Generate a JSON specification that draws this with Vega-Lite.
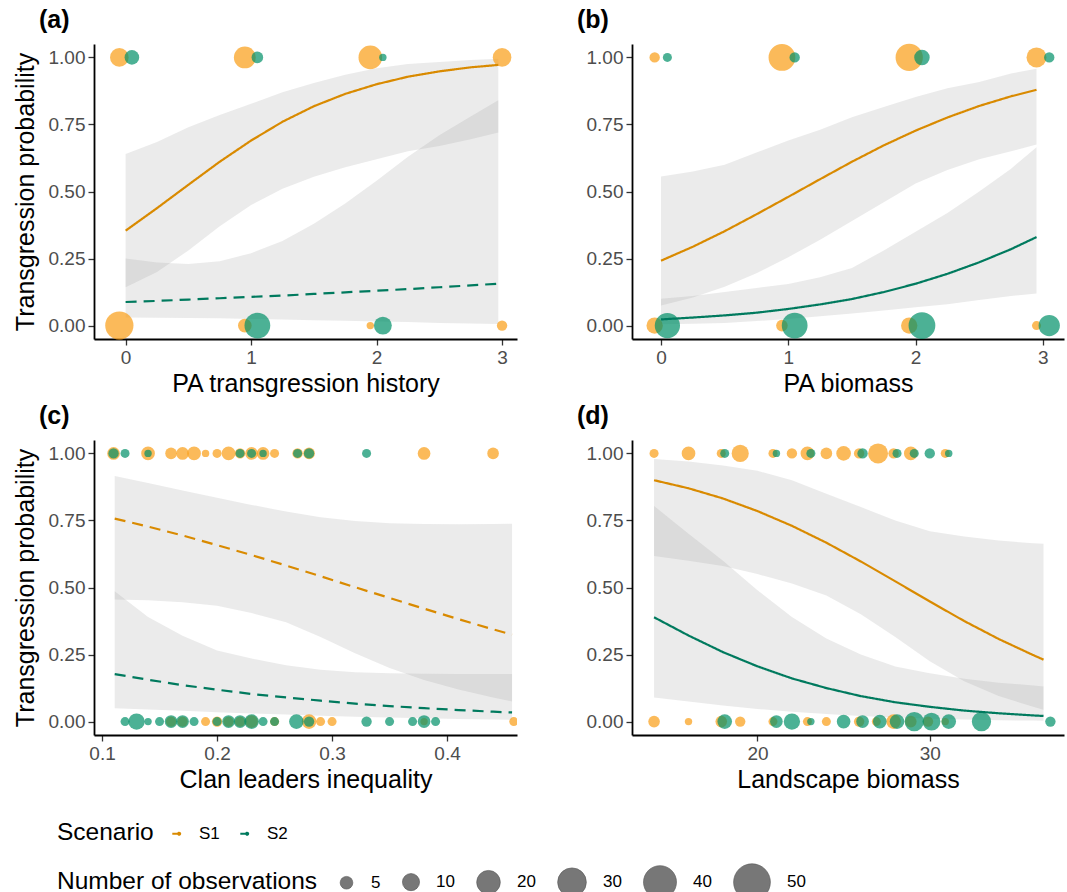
{
  "$schema": "https://vega.github.io/schema/vega-lite/v6.json",
  "padding": {"left": 12, "top": 7, "right": 5, "bottom": 5},
  "config": {
    "font": "Liberation Sans",
    "view": {"stroke": null},
    "axis": {"grid": false, "domainColor": "#000000", "domainWidth": 1.8, "tickColor": "#333333", "tickWidth": 1.3, "tickSize": 6, "labelFontSize": 19, "labelColor": "#4d4d4d", "labelPadding": 3, "titleFontSize": 25, "titleFontWeight": "normal", "titleColor": "#000000"},
    "title": {"fontSize": 25, "fontWeight": "bold", "anchor": "start", "frame": "group", "dx": -55, "offset": 11, "baseline": "alphabetic", "color": "#000000"},
    "legend": {"titleFontSize": 24.5, "titleFontWeight": "normal", "titleColor": "#000000", "titleLimit": 500, "labelFontSize": 17, "labelColor": "#000000", "titleOrient": "left", "titleAnchor": "middle", "titleBaseline": "middle", "direction": "horizontal", "orient": "none"}
  },
  "datasets": {
    "curves": [
      {"p":"a","sc":"S1","lt":"solid","x":0,"fit":0.354,"lo":0.143,"hi":0.64},
      {"p":"a","sc":"S1","lt":"solid","x":0.25,"fit":0.438,"lo":0.2,"hi":0.685},
      {"p":"a","sc":"S1","lt":"solid","x":0.5,"fit":0.525,"lo":0.28,"hi":0.74},
      {"p":"a","sc":"S1","lt":"solid","x":0.75,"fit":0.611,"lo":0.37,"hi":0.785},
      {"p":"a","sc":"S1","lt":"solid","x":1,"fit":0.69,"lo":0.45,"hi":0.827},
      {"p":"a","sc":"S1","lt":"solid","x":1.25,"fit":0.76,"lo":0.51,"hi":0.87},
      {"p":"a","sc":"S1","lt":"solid","x":1.5,"fit":0.818,"lo":0.555,"hi":0.905},
      {"p":"a","sc":"S1","lt":"solid","x":1.75,"fit":0.864,"lo":0.59,"hi":0.935},
      {"p":"a","sc":"S1","lt":"solid","x":2,"fit":0.9,"lo":0.62,"hi":0.96},
      {"p":"a","sc":"S1","lt":"solid","x":2.25,"fit":0.928,"lo":0.65,"hi":0.975},
      {"p":"a","sc":"S1","lt":"solid","x":2.5,"fit":0.948,"lo":0.67,"hi":0.983},
      {"p":"a","sc":"S1","lt":"solid","x":2.75,"fit":0.963,"lo":0.695,"hi":0.99},
      {"p":"a","sc":"S1","lt":"solid","x":2.97,"fit":0.972,"lo":0.72,"hi":0.995},
      {"p":"a","sc":"S2","lt":"dashed","x":0,"fit":0.088,"lo":0.03,"hi":0.25},
      {"p":"a","sc":"S2","lt":"dashed","x":0.25,"fit":0.092,"lo":0.029,"hi":0.235},
      {"p":"a","sc":"S2","lt":"dashed","x":0.5,"fit":0.097,"lo":0.028,"hi":0.23},
      {"p":"a","sc":"S2","lt":"dashed","x":0.75,"fit":0.102,"lo":0.027,"hi":0.24},
      {"p":"a","sc":"S2","lt":"dashed","x":1,"fit":0.107,"lo":0.025,"hi":0.27},
      {"p":"a","sc":"S2","lt":"dashed","x":1.25,"fit":0.112,"lo":0.023,"hi":0.315},
      {"p":"a","sc":"S2","lt":"dashed","x":1.5,"fit":0.118,"lo":0.02,"hi":0.38},
      {"p":"a","sc":"S2","lt":"dashed","x":1.75,"fit":0.124,"lo":0.018,"hi":0.455},
      {"p":"a","sc":"S2","lt":"dashed","x":2,"fit":0.13,"lo":0.015,"hi":0.54},
      {"p":"a","sc":"S2","lt":"dashed","x":2.25,"fit":0.136,"lo":0.013,"hi":0.63},
      {"p":"a","sc":"S2","lt":"dashed","x":2.5,"fit":0.143,"lo":0.01,"hi":0.71},
      {"p":"a","sc":"S2","lt":"dashed","x":2.75,"fit":0.15,"lo":0.008,"hi":0.78},
      {"p":"a","sc":"S2","lt":"dashed","x":2.97,"fit":0.156,"lo":0.006,"hi":0.84},

      {"p":"b","sc":"S1","lt":"solid","x":0,"fit":0.242,"lo":0.075,"hi":0.556},
      {"p":"b","sc":"S1","lt":"solid","x":0.25,"fit":0.294,"lo":0.105,"hi":0.575},
      {"p":"b","sc":"S1","lt":"solid","x":0.5,"fit":0.352,"lo":0.145,"hi":0.6},
      {"p":"b","sc":"S1","lt":"solid","x":0.75,"fit":0.415,"lo":0.195,"hi":0.645},
      {"p":"b","sc":"S1","lt":"solid","x":1,"fit":0.48,"lo":0.255,"hi":0.69},
      {"p":"b","sc":"S1","lt":"solid","x":1.25,"fit":0.546,"lo":0.32,"hi":0.73},
      {"p":"b","sc":"S1","lt":"solid","x":1.5,"fit":0.611,"lo":0.39,"hi":0.777},
      {"p":"b","sc":"S1","lt":"solid","x":1.75,"fit":0.672,"lo":0.46,"hi":0.815},
      {"p":"b","sc":"S1","lt":"solid","x":2,"fit":0.727,"lo":0.53,"hi":0.852},
      {"p":"b","sc":"S1","lt":"solid","x":2.25,"fit":0.776,"lo":0.58,"hi":0.885},
      {"p":"b","sc":"S1","lt":"solid","x":2.5,"fit":0.819,"lo":0.62,"hi":0.908},
      {"p":"b","sc":"S1","lt":"solid","x":2.75,"fit":0.855,"lo":0.65,"hi":0.94},
      {"p":"b","sc":"S1","lt":"solid","x":2.95,"fit":0.879,"lo":0.675,"hi":0.958},
      {"p":"b","sc":"S2","lt":"solid","x":0,"fit":0.023,"lo":0.005,"hi":0.1},
      {"p":"b","sc":"S2","lt":"solid","x":0.25,"fit":0.03,"lo":0.007,"hi":0.11},
      {"p":"b","sc":"S2","lt":"solid","x":0.5,"fit":0.038,"lo":0.01,"hi":0.125},
      {"p":"b","sc":"S2","lt":"solid","x":0.75,"fit":0.048,"lo":0.017,"hi":0.14},
      {"p":"b","sc":"S2","lt":"solid","x":1,"fit":0.062,"lo":0.025,"hi":0.155},
      {"p":"b","sc":"S2","lt":"solid","x":1.25,"fit":0.079,"lo":0.035,"hi":0.18},
      {"p":"b","sc":"S2","lt":"solid","x":1.5,"fit":0.099,"lo":0.045,"hi":0.215},
      {"p":"b","sc":"S2","lt":"solid","x":1.75,"fit":0.125,"lo":0.056,"hi":0.28},
      {"p":"b","sc":"S2","lt":"solid","x":2,"fit":0.156,"lo":0.068,"hi":0.35},
      {"p":"b","sc":"S2","lt":"solid","x":2.25,"fit":0.193,"lo":0.08,"hi":0.42},
      {"p":"b","sc":"S2","lt":"solid","x":2.5,"fit":0.236,"lo":0.095,"hi":0.5},
      {"p":"b","sc":"S2","lt":"solid","x":2.75,"fit":0.285,"lo":0.11,"hi":0.585},
      {"p":"b","sc":"S2","lt":"solid","x":2.95,"fit":0.33,"lo":0.12,"hi":0.665},

      {"p":"c","sc":"S1","lt":"dashed","x":0.111,"fit":0.757,"lo":0.455,"hi":0.916},
      {"p":"c","sc":"S1","lt":"dashed","x":0.14,"fit":0.727,"lo":0.452,"hi":0.89},
      {"p":"c","sc":"S1","lt":"dashed","x":0.17,"fit":0.694,"lo":0.445,"hi":0.862},
      {"p":"c","sc":"S1","lt":"dashed","x":0.2,"fit":0.658,"lo":0.432,"hi":0.835},
      {"p":"c","sc":"S1","lt":"dashed","x":0.23,"fit":0.621,"lo":0.405,"hi":0.808},
      {"p":"c","sc":"S1","lt":"dashed","x":0.26,"fit":0.582,"lo":0.37,"hi":0.783},
      {"p":"c","sc":"S1","lt":"dashed","x":0.29,"fit":0.542,"lo":0.315,"hi":0.762},
      {"p":"c","sc":"S1","lt":"dashed","x":0.32,"fit":0.501,"lo":0.255,"hi":0.748},
      {"p":"c","sc":"S1","lt":"dashed","x":0.35,"fit":0.461,"lo":0.2,"hi":0.74},
      {"p":"c","sc":"S1","lt":"dashed","x":0.38,"fit":0.421,"lo":0.155,"hi":0.737},
      {"p":"c","sc":"S1","lt":"dashed","x":0.41,"fit":0.382,"lo":0.12,"hi":0.736},
      {"p":"c","sc":"S1","lt":"dashed","x":0.44,"fit":0.344,"lo":0.09,"hi":0.737},
      {"p":"c","sc":"S1","lt":"dashed","x":0.4565,"fit":0.324,"lo":0.075,"hi":0.738},
      {"p":"c","sc":"S2","lt":"dashed","x":0.111,"fit":0.177,"lo":0.05,"hi":0.486},
      {"p":"c","sc":"S2","lt":"dashed","x":0.14,"fit":0.156,"lo":0.045,"hi":0.39},
      {"p":"c","sc":"S2","lt":"dashed","x":0.17,"fit":0.136,"lo":0.04,"hi":0.32},
      {"p":"c","sc":"S2","lt":"dashed","x":0.2,"fit":0.119,"lo":0.035,"hi":0.265},
      {"p":"c","sc":"S2","lt":"dashed","x":0.23,"fit":0.103,"lo":0.03,"hi":0.235},
      {"p":"c","sc":"S2","lt":"dashed","x":0.26,"fit":0.09,"lo":0.026,"hi":0.21},
      {"p":"c","sc":"S2","lt":"dashed","x":0.29,"fit":0.078,"lo":0.022,"hi":0.193},
      {"p":"c","sc":"S2","lt":"dashed","x":0.32,"fit":0.067,"lo":0.018,"hi":0.184},
      {"p":"c","sc":"S2","lt":"dashed","x":0.35,"fit":0.058,"lo":0.015,"hi":0.18},
      {"p":"c","sc":"S2","lt":"dashed","x":0.38,"fit":0.05,"lo":0.012,"hi":0.178},
      {"p":"c","sc":"S2","lt":"dashed","x":0.41,"fit":0.043,"lo":0.01,"hi":0.177},
      {"p":"c","sc":"S2","lt":"dashed","x":0.44,"fit":0.037,"lo":0.008,"hi":0.177},
      {"p":"c","sc":"S2","lt":"dashed","x":0.4565,"fit":0.034,"lo":0.007,"hi":0.177},

      {"p":"d","sc":"S1","lt":"solid","x":14,"fit":0.9,"lo":0.617,"hi":0.979},
      {"p":"d","sc":"S1","lt":"solid","x":16,"fit":0.87,"lo":0.6,"hi":0.97},
      {"p":"d","sc":"S1","lt":"solid","x":18,"fit":0.832,"lo":0.58,"hi":0.955},
      {"p":"d","sc":"S1","lt":"solid","x":20,"fit":0.785,"lo":0.55,"hi":0.935},
      {"p":"d","sc":"S1","lt":"solid","x":22,"fit":0.73,"lo":0.515,"hi":0.9},
      {"p":"d","sc":"S1","lt":"solid","x":24,"fit":0.667,"lo":0.47,"hi":0.85},
      {"p":"d","sc":"S1","lt":"solid","x":26,"fit":0.597,"lo":0.4,"hi":0.8},
      {"p":"d","sc":"S1","lt":"solid","x":28,"fit":0.523,"lo":0.315,"hi":0.75},
      {"p":"d","sc":"S1","lt":"solid","x":30,"fit":0.448,"lo":0.225,"hi":0.71},
      {"p":"d","sc":"S1","lt":"solid","x":32,"fit":0.375,"lo":0.15,"hi":0.69},
      {"p":"d","sc":"S1","lt":"solid","x":34,"fit":0.308,"lo":0.095,"hi":0.675},
      {"p":"d","sc":"S1","lt":"solid","x":36,"fit":0.248,"lo":0.055,"hi":0.665},
      {"p":"d","sc":"S1","lt":"solid","x":36.6,"fit":0.231,"lo":0.044,"hi":0.663},
      {"p":"d","sc":"S2","lt":"solid","x":14,"fit":0.389,"lo":0.09,"hi":0.804},
      {"p":"d","sc":"S2","lt":"solid","x":16,"fit":0.321,"lo":0.075,"hi":0.7},
      {"p":"d","sc":"S2","lt":"solid","x":18,"fit":0.259,"lo":0.06,"hi":0.6},
      {"p":"d","sc":"S2","lt":"solid","x":20,"fit":0.206,"lo":0.047,"hi":0.49},
      {"p":"d","sc":"S2","lt":"solid","x":22,"fit":0.161,"lo":0.037,"hi":0.39},
      {"p":"d","sc":"S2","lt":"solid","x":24,"fit":0.125,"lo":0.028,"hi":0.31},
      {"p":"d","sc":"S2","lt":"solid","x":26,"fit":0.095,"lo":0.021,"hi":0.25},
      {"p":"d","sc":"S2","lt":"solid","x":28,"fit":0.072,"lo":0.015,"hi":0.205},
      {"p":"d","sc":"S2","lt":"solid","x":30,"fit":0.055,"lo":0.011,"hi":0.18},
      {"p":"d","sc":"S2","lt":"solid","x":32,"fit":0.041,"lo":0.008,"hi":0.16},
      {"p":"d","sc":"S2","lt":"solid","x":34,"fit":0.031,"lo":0.005,"hi":0.145},
      {"p":"d","sc":"S2","lt":"solid","x":36,"fit":0.023,"lo":0.004,"hi":0.135},
      {"p":"d","sc":"S2","lt":"solid","x":36.6,"fit":0.021,"lo":0.003,"hi":0.131}
    ],
    "pts": [
      {"p":"a","s":"S1","x":-0.05,"y":1,"n":12},
      {"p":"a","s":"S1","x":0.95,"y":1,"n":17},
      {"p":"a","s":"S1","x":1.95,"y":1,"n":20},
      {"p":"a","s":"S1","x":3,"y":1,"n":12},
      {"p":"a","s":"S1","x":-0.05,"y":0,"n":29},
      {"p":"a","s":"S1","x":0.95,"y":0,"n":6},
      {"p":"a","s":"S1","x":1.95,"y":0,"n":1},
      {"p":"a","s":"S1","x":3,"y":0,"n":3},
      {"p":"a","s":"S2","x":0.05,"y":1,"n":7},
      {"p":"a","s":"S2","x":1.05,"y":1,"n":4},
      {"p":"a","s":"S2","x":2.05,"y":1,"n":1},
      {"p":"a","s":"S2","x":1.05,"y":0,"n":24},
      {"p":"a","s":"S2","x":2.05,"y":0,"n":11},

      {"p":"b","s":"S1","x":-0.05,"y":1,"n":3},
      {"p":"b","s":"S1","x":0.95,"y":1,"n":26},
      {"p":"b","s":"S1","x":1.95,"y":1,"n":27},
      {"p":"b","s":"S1","x":2.95,"y":1,"n":14},
      {"p":"b","s":"S1","x":-0.05,"y":0,"n":9},
      {"p":"b","s":"S1","x":0.95,"y":0,"n":4},
      {"p":"b","s":"S1","x":1.95,"y":0,"n":9},
      {"p":"b","s":"S1","x":2.95,"y":0,"n":2},
      {"p":"b","s":"S2","x":0.05,"y":1,"n":2},
      {"p":"b","s":"S2","x":1.05,"y":1,"n":3},
      {"p":"b","s":"S2","x":2.05,"y":1,"n":8},
      {"p":"b","s":"S2","x":3.05,"y":1,"n":3},
      {"p":"b","s":"S2","x":0.05,"y":0,"n":23},
      {"p":"b","s":"S2","x":1.05,"y":0,"n":24},
      {"p":"b","s":"S2","x":2.05,"y":0,"n":26},
      {"p":"b","s":"S2","x":3.05,"y":0,"n":16},

      {"p":"c","s":"S1","x":0.11,"y":1,"n":5},
      {"p":"c","s":"S1","x":0.14,"y":1,"n":6},
      {"p":"c","s":"S1","x":0.16,"y":1,"n":4},
      {"p":"c","s":"S1","x":0.17,"y":1,"n":5},
      {"p":"c","s":"S1","x":0.18,"y":1,"n":6},
      {"p":"c","s":"S1","x":0.19,"y":1,"n":1},
      {"p":"c","s":"S1","x":0.2,"y":1,"n":2},
      {"p":"c","s":"S1","x":0.21,"y":1,"n":6},
      {"p":"c","s":"S1","x":0.22,"y":1,"n":3},
      {"p":"c","s":"S1","x":0.23,"y":1,"n":5},
      {"p":"c","s":"S1","x":0.24,"y":1,"n":5},
      {"p":"c","s":"S1","x":0.25,"y":1,"n":2},
      {"p":"c","s":"S1","x":0.27,"y":1,"n":3},
      {"p":"c","s":"S1","x":0.28,"y":1,"n":4},
      {"p":"c","s":"S1","x":0.38,"y":1,"n":5},
      {"p":"c","s":"S1","x":0.44,"y":1,"n":4},
      {"p":"c","s":"S1","x":0.16,"y":0,"n":3},
      {"p":"c","s":"S1","x":0.17,"y":0,"n":3},
      {"p":"c","s":"S1","x":0.19,"y":0,"n":2},
      {"p":"c","s":"S1","x":0.2,"y":0,"n":3},
      {"p":"c","s":"S1","x":0.21,"y":0,"n":3},
      {"p":"c","s":"S1","x":0.22,"y":0,"n":3},
      {"p":"c","s":"S1","x":0.23,"y":0,"n":5},
      {"p":"c","s":"S1","x":0.25,"y":0,"n":2},
      {"p":"c","s":"S1","x":0.28,"y":0,"n":7},
      {"p":"c","s":"S1","x":0.29,"y":0,"n":2},
      {"p":"c","s":"S1","x":0.3,"y":0,"n":2},
      {"p":"c","s":"S1","x":0.38,"y":0,"n":1},
      {"p":"c","s":"S1","x":0.458,"y":0,"n":2},
      {"p":"c","s":"S2","x":0.11,"y":1,"n":3},
      {"p":"c","s":"S2","x":0.12,"y":1,"n":2},
      {"p":"c","s":"S2","x":0.14,"y":1,"n":1},
      {"p":"c","s":"S2","x":0.22,"y":1,"n":2},
      {"p":"c","s":"S2","x":0.23,"y":1,"n":2},
      {"p":"c","s":"S2","x":0.24,"y":1,"n":1},
      {"p":"c","s":"S2","x":0.27,"y":1,"n":2},
      {"p":"c","s":"S2","x":0.28,"y":1,"n":3},
      {"p":"c","s":"S2","x":0.33,"y":1,"n":2},
      {"p":"c","s":"S2","x":0.12,"y":0,"n":2},
      {"p":"c","s":"S2","x":0.13,"y":0,"n":9},
      {"p":"c","s":"S2","x":0.14,"y":0,"n":1},
      {"p":"c","s":"S2","x":0.15,"y":0,"n":2},
      {"p":"c","s":"S2","x":0.16,"y":0,"n":5},
      {"p":"c","s":"S2","x":0.17,"y":0,"n":5},
      {"p":"c","s":"S2","x":0.18,"y":0,"n":2},
      {"p":"c","s":"S2","x":0.2,"y":0,"n":2},
      {"p":"c","s":"S2","x":0.21,"y":0,"n":5},
      {"p":"c","s":"S2","x":0.22,"y":0,"n":5},
      {"p":"c","s":"S2","x":0.23,"y":0,"n":7},
      {"p":"c","s":"S2","x":0.24,"y":0,"n":2},
      {"p":"c","s":"S2","x":0.25,"y":0,"n":2},
      {"p":"c","s":"S2","x":0.269,"y":0,"n":7},
      {"p":"c","s":"S2","x":0.28,"y":0,"n":3},
      {"p":"c","s":"S2","x":0.33,"y":0,"n":3},
      {"p":"c","s":"S2","x":0.35,"y":0,"n":2},
      {"p":"c","s":"S2","x":0.37,"y":0,"n":2},
      {"p":"c","s":"S2","x":0.38,"y":0,"n":5},
      {"p":"c","s":"S2","x":0.39,"y":0,"n":2},

      {"p":"d","s":"S1","x":14,"y":1,"n":2},
      {"p":"d","s":"S1","x":16,"y":1,"n":6},
      {"p":"d","s":"S1","x":17.9,"y":1,"n":2},
      {"p":"d","s":"S1","x":19,"y":1,"n":10},
      {"p":"d","s":"S1","x":20.9,"y":1,"n":2},
      {"p":"d","s":"S1","x":22,"y":1,"n":3},
      {"p":"d","s":"S1","x":22.9,"y":1,"n":6},
      {"p":"d","s":"S1","x":24,"y":1,"n":4},
      {"p":"d","s":"S1","x":25,"y":1,"n":7},
      {"p":"d","s":"S1","x":25.9,"y":1,"n":3},
      {"p":"d","s":"S1","x":27,"y":1,"n":14},
      {"p":"d","s":"S1","x":27.9,"y":1,"n":3},
      {"p":"d","s":"S1","x":28.9,"y":1,"n":6},
      {"p":"d","s":"S1","x":30.9,"y":1,"n":2},
      {"p":"d","s":"S1","x":14,"y":0,"n":4},
      {"p":"d","s":"S1","x":16,"y":0,"n":1},
      {"p":"d","s":"S1","x":17.9,"y":0,"n":4},
      {"p":"d","s":"S1","x":19,"y":0,"n":3},
      {"p":"d","s":"S1","x":20.9,"y":0,"n":2},
      {"p":"d","s":"S1","x":22.9,"y":0,"n":2},
      {"p":"d","s":"S1","x":24,"y":0,"n":2},
      {"p":"d","s":"S1","x":25.9,"y":0,"n":3},
      {"p":"d","s":"S1","x":26.9,"y":0,"n":2},
      {"p":"d","s":"S1","x":27.9,"y":0,"n":7},
      {"p":"d","s":"S1","x":28.9,"y":0,"n":4},
      {"p":"d","s":"S1","x":29.9,"y":0,"n":3},
      {"p":"d","s":"S1","x":30.9,"y":0,"n":1},
      {"p":"d","s":"S2","x":18.1,"y":1,"n":2},
      {"p":"d","s":"S2","x":21.1,"y":1,"n":1},
      {"p":"d","s":"S2","x":23.1,"y":1,"n":2},
      {"p":"d","s":"S2","x":26.1,"y":1,"n":3},
      {"p":"d","s":"S2","x":28.1,"y":1,"n":2},
      {"p":"d","s":"S2","x":29.1,"y":1,"n":2},
      {"p":"d","s":"S2","x":30,"y":1,"n":3},
      {"p":"d","s":"S2","x":31.1,"y":1,"n":1},
      {"p":"d","s":"S2","x":18.1,"y":0,"n":7},
      {"p":"d","s":"S2","x":21.1,"y":0,"n":5},
      {"p":"d","s":"S2","x":22,"y":0,"n":9},
      {"p":"d","s":"S2","x":23.1,"y":0,"n":1},
      {"p":"d","s":"S2","x":25,"y":0,"n":6},
      {"p":"d","s":"S2","x":26.1,"y":0,"n":5},
      {"p":"d","s":"S2","x":27.1,"y":0,"n":6},
      {"p":"d","s":"S2","x":28.1,"y":0,"n":7},
      {"p":"d","s":"S2","x":29.1,"y":0,"n":13},
      {"p":"d","s":"S2","x":30.1,"y":0,"n":11},
      {"p":"d","s":"S2","x":31.1,"y":0,"n":7},
      {"p":"d","s":"S2","x":33,"y":0,"n":13},
      {"p":"d","s":"S2","x":37,"y":0,"n":3}
    ]
  },
  "columns": 2,
  "spacing": {"row": 8, "column": 60},
  "resolve": {"scale": {"x": "independent", "y": "independent", "fill": "shared", "color": "shared", "size": "shared", "strokeDash": "shared"}},
  "concat": [
    {
      "width": 423, "height": 295,
      "title": {"text": "(a)"},
      "layer": [
        {"data": {"name": "curves"}, "transform": [{"filter": "datum.p == 'a'"}],
         "mark": {"type": "area", "fill": "#999999", "opacity": 0.2},
         "encoding": {
           "x": {"field": "x", "type": "quantitative", "scale": {"domain": [-0.252, 3.119], "nice": false, "zero": false}, "axis": {"title": "PA transgression history", "values": [0,1,2,3], "format": "d", "minExtent": 29, "maxExtent": 29, "titlePadding": 3}},
           "y": {"field": "lo", "type": "quantitative", "scale": {"domain": [-0.05, 1.05], "nice": false, "zero": false}, "axis": {"title": "Transgression probability", "values": [0,0.25,0.5,0.75,1], "format": ".2f", "minExtent": 50, "maxExtent": 50, "titlePadding": 6}},
           "y2": {"field": "hi"},
           "detail": {"field": "sc"}
         }},
        {"data": {"name": "pts"}, "transform": [{"filter": "datum.p == 'a'"}],
         "mark": {"type": "circle", "opacity": 0.7},
         "encoding": {
           "x": {"field": "x", "type": "quantitative"},
           "y": {"field": "y", "type": "quantitative"},
           "fill": {"field": "s", "type": "nominal", "scale": {"range": ["#F99D14", "#009068"]}, "legend": null},
           "size": {"field": "n", "type": "quantitative", "scale": {"type": "linear", "domain": [1, 50], "range": [55, 1353]}, "legend": {"title": "Number of observations", "values": [5,10,20,30,40,50], "legendX": -37, "legendY": 819, "symbolFillColor": "#777777", "symbolStrokeColor": "#555555", "symbolStrokeWidth": 0.6, "symbolOpacity": 1, "symbolType": "circle", "labelOffset": 16, "columnPadding": 20, "titlePadding": 20}}
         }},
        {"data": {"name": "curves"}, "transform": [{"filter": "datum.p == 'a'"}],
         "mark": {"type": "line", "strokeWidth": 2.2},
         "encoding": {
           "x": {"field": "x", "type": "quantitative"},
           "y": {"field": "fit", "type": "quantitative"},
           "color": {"field": "sc", "type": "nominal", "scale": {"domain": ["S1","S2"], "range": ["#D98A00", "#007A5E"]}, "legend": {"title": "Scenario", "legendX": -37, "legendY": 781, "symbolType": "M-0.7,0H0.3M0.62,0A0.17,0.17 0 1,1 0.28,0A0.17,0.17 0 1,1 0.62,0", "symbolSize": 144, "symbolStrokeWidth": 2, "labelOffset": 14, "columnPadding": 16, "titlePadding": 14, "encode": {"symbols": {"update": {"fill": {"scale": "color", "field": "value"}, "strokeDash": {"value": [1, 0]}}}}}},
           "strokeDash": {"field": "lt", "type": "nominal", "scale": {"domain": ["solid","dashed"], "range": [[1,0],[11,7]]}, "legend": null}
         }}
      ]
    },
    {
      "width": 432, "height": 295,
      "title": {"text": "(b)"},
      "layer": [
        {"data": {"name": "curves"}, "transform": [{"filter": "datum.p == 'b'"}],
         "mark": {"type": "area", "fill": "#999999", "opacity": 0.2},
         "encoding": {
           "x": {"field": "x", "type": "quantitative", "scale": {"domain": [-0.228, 3.166], "nice": false, "zero": false}, "axis": {"title": "PA biomass", "values": [0,1,2,3], "format": "d", "minExtent": 29, "maxExtent": 29, "titlePadding": 3}},
           "y": {"field": "lo", "type": "quantitative", "scale": {"domain": [-0.05, 1.05], "nice": false, "zero": false}, "axis": {"title": null, "values": [0,0.25,0.5,0.75,1], "format": ".2f"}},
           "y2": {"field": "hi"},
           "detail": {"field": "sc"}
         }},
        {"data": {"name": "pts"}, "transform": [{"filter": "datum.p == 'b'"}],
         "mark": {"type": "circle", "opacity": 0.7},
         "encoding": {
           "x": {"field": "x", "type": "quantitative"},
           "y": {"field": "y", "type": "quantitative"},
           "fill": {"field": "s", "type": "nominal", "scale": {"range": ["#F99D14", "#009068"]}, "legend": null},
           "size": {"field": "n", "type": "quantitative", "scale": {"type": "linear", "domain": [1, 50], "range": [55, 1353]}, "legend": {"title": "Number of observations", "values": [5,10,20,30,40,50], "legendX": -37, "legendY": 819, "symbolFillColor": "#777777", "symbolStrokeColor": "#555555", "symbolStrokeWidth": 0.6, "symbolOpacity": 1, "symbolType": "circle", "labelOffset": 16, "columnPadding": 20, "titlePadding": 20}}
         }},
        {"data": {"name": "curves"}, "transform": [{"filter": "datum.p == 'b'"}],
         "mark": {"type": "line", "strokeWidth": 2.2},
         "encoding": {
           "x": {"field": "x", "type": "quantitative"},
           "y": {"field": "fit", "type": "quantitative"},
           "color": {"field": "sc", "type": "nominal", "scale": {"domain": ["S1","S2"], "range": ["#D98A00", "#007A5E"]}, "legend": {"title": "Scenario", "legendX": -37, "legendY": 781, "symbolType": "M-0.7,0H0.3M0.62,0A0.17,0.17 0 1,1 0.28,0A0.17,0.17 0 1,1 0.62,0", "symbolSize": 144, "symbolStrokeWidth": 2, "labelOffset": 14, "columnPadding": 16, "titlePadding": 14, "encode": {"symbols": {"update": {"fill": {"scale": "color", "field": "value"}, "strokeDash": {"value": [1, 0]}}}}}},
           "strokeDash": {"field": "lt", "type": "nominal", "scale": {"domain": ["solid","dashed"], "range": [[1,0],[11,7]]}, "legend": null}
         }}
      ]
    },
    {
      "width": 423, "height": 295,
      "title": {"text": "(c)"},
      "layer": [
        {"data": {"name": "curves"}, "transform": [{"filter": "datum.p == 'c'"}],
         "mark": {"type": "area", "fill": "#999999", "opacity": 0.2},
         "encoding": {
           "x": {"field": "x", "type": "quantitative", "scale": {"domain": [0.093, 0.4608], "nice": false, "zero": false}, "axis": {"title": "Clan leaders inequality", "values": [0.1,0.2,0.3,0.4], "format": ".1f", "minExtent": 29, "maxExtent": 29, "titlePadding": 3}},
           "y": {"field": "lo", "type": "quantitative", "scale": {"domain": [-0.05, 1.05], "nice": false, "zero": false}, "axis": {"title": "Transgression probability", "values": [0,0.25,0.5,0.75,1], "format": ".2f", "minExtent": 50, "maxExtent": 50, "titlePadding": 6}},
           "y2": {"field": "hi"},
           "detail": {"field": "sc"}
         }},
        {"data": {"name": "pts"}, "transform": [{"filter": "datum.p == 'c'"}],
         "mark": {"type": "circle", "opacity": 0.7, "clip": true},
         "encoding": {
           "x": {"field": "x", "type": "quantitative"},
           "y": {"field": "y", "type": "quantitative"},
           "fill": {"field": "s", "type": "nominal", "scale": {"range": ["#F99D14", "#009068"]}, "legend": null},
           "size": {"field": "n", "type": "quantitative", "scale": {"type": "linear", "domain": [1, 50], "range": [55, 1353]}, "legend": {"title": "Number of observations", "values": [5,10,20,30,40,50], "legendX": -37, "legendY": 819, "symbolFillColor": "#777777", "symbolStrokeColor": "#555555", "symbolStrokeWidth": 0.6, "symbolOpacity": 1, "symbolType": "circle", "labelOffset": 16, "columnPadding": 20, "titlePadding": 20}}
         }},
        {"data": {"name": "curves"}, "transform": [{"filter": "datum.p == 'c'"}],
         "mark": {"type": "line", "strokeWidth": 2.2},
         "encoding": {
           "x": {"field": "x", "type": "quantitative"},
           "y": {"field": "fit", "type": "quantitative"},
           "color": {"field": "sc", "type": "nominal", "scale": {"domain": ["S1","S2"], "range": ["#D98A00", "#007A5E"]}, "legend": {"title": "Scenario", "legendX": -37, "legendY": 781, "symbolType": "M-0.7,0H0.3M0.62,0A0.17,0.17 0 1,1 0.28,0A0.17,0.17 0 1,1 0.62,0", "symbolSize": 144, "symbolStrokeWidth": 2, "labelOffset": 14, "columnPadding": 16, "titlePadding": 14, "encode": {"symbols": {"update": {"fill": {"scale": "color", "field": "value"}, "strokeDash": {"value": [1, 0]}}}}}},
           "strokeDash": {"field": "lt", "type": "nominal", "scale": {"domain": ["solid","dashed"], "range": [[1,0],[11,7]]}, "legend": null}
         }}
      ]
    },
    {
      "width": 432, "height": 295,
      "title": {"text": "(d)"},
      "layer": [
        {"data": {"name": "curves"}, "transform": [{"filter": "datum.p == 'd'"}],
         "mark": {"type": "area", "fill": "#999999", "opacity": 0.2},
         "encoding": {
           "x": {"field": "x", "type": "quantitative", "scale": {"domain": [12.72, 37.79], "nice": false, "zero": false}, "axis": {"title": "Landscape biomass", "values": [20,30], "format": "d", "minExtent": 29, "maxExtent": 29, "titlePadding": 3}},
           "y": {"field": "lo", "type": "quantitative", "scale": {"domain": [-0.05, 1.05], "nice": false, "zero": false}, "axis": {"title": null, "values": [0,0.25,0.5,0.75,1], "format": ".2f"}},
           "y2": {"field": "hi"},
           "detail": {"field": "sc"}
         }},
        {"data": {"name": "pts"}, "transform": [{"filter": "datum.p == 'd'"}],
         "mark": {"type": "circle", "opacity": 0.7},
         "encoding": {
           "x": {"field": "x", "type": "quantitative"},
           "y": {"field": "y", "type": "quantitative"},
           "fill": {"field": "s", "type": "nominal", "scale": {"range": ["#F99D14", "#009068"]}, "legend": null},
           "size": {"field": "n", "type": "quantitative", "scale": {"type": "linear", "domain": [1, 50], "range": [55, 1353]}, "legend": {"title": "Number of observations", "values": [5,10,20,30,40,50], "legendX": -37, "legendY": 819, "symbolFillColor": "#777777", "symbolStrokeColor": "#555555", "symbolStrokeWidth": 0.6, "symbolOpacity": 1, "symbolType": "circle", "labelOffset": 16, "columnPadding": 20, "titlePadding": 20}}
         }},
        {"data": {"name": "curves"}, "transform": [{"filter": "datum.p == 'd'"}],
         "mark": {"type": "line", "strokeWidth": 2.2},
         "encoding": {
           "x": {"field": "x", "type": "quantitative"},
           "y": {"field": "fit", "type": "quantitative"},
           "color": {"field": "sc", "type": "nominal", "scale": {"domain": ["S1","S2"], "range": ["#D98A00", "#007A5E"]}, "legend": {"title": "Scenario", "legendX": -37, "legendY": 781, "symbolType": "M-0.7,0H0.3M0.62,0A0.17,0.17 0 1,1 0.28,0A0.17,0.17 0 1,1 0.62,0", "symbolSize": 144, "symbolStrokeWidth": 2, "labelOffset": 14, "columnPadding": 16, "titlePadding": 14, "encode": {"symbols": {"update": {"fill": {"scale": "color", "field": "value"}, "strokeDash": {"value": [1, 0]}}}}}},
           "strokeDash": {"field": "lt", "type": "nominal", "scale": {"domain": ["solid","dashed"], "range": [[1,0],[11,7]]}, "legend": null}
         }}
      ]
    }
  ]
}
